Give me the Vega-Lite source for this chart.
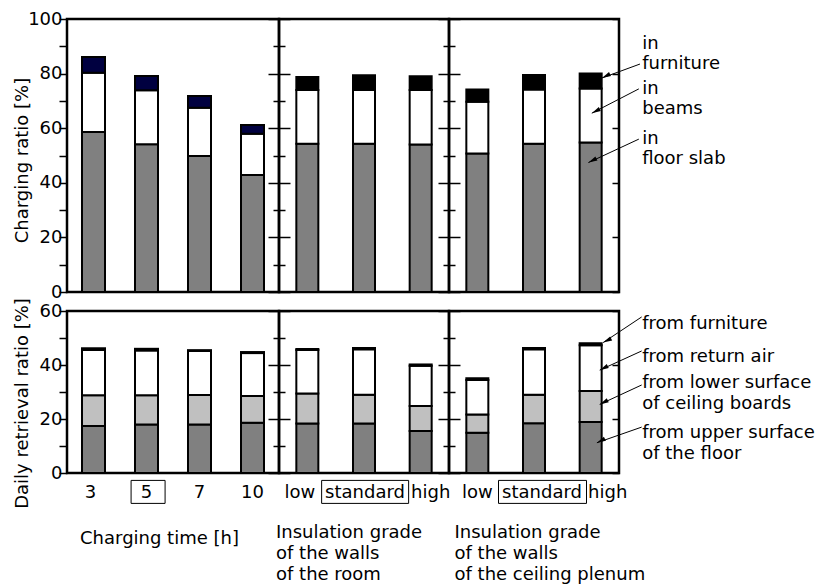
{
"$schema": "https://vega.github.io/schema/vega-lite/v6.json",
"padding": {"left": 11, "top": 8, "right": 5, "bottom": 5},
"background": "white",
"config": {
  "font": "DejaVu Sans",
  "view": {"stroke": "black", "strokeWidth": 2.5},
  "axis": {"domain": false, "grid": false, "tickColor": "black", "tickWidth": 1.5, "labelColor": "black", "labelFontSize": 18, "titleColor": "black", "titleFontSize": 18, "titleFontWeight": "normal"},
  "text": {"fontSize": 18, "color": "black"}
},
"datasets": {
  "charge": [
    {"g":"time","c":"3","comp":"slab","i":1,"v":58.6},{"g":"time","c":"3","comp":"beams","i":2,"v":21.7},{"g":"time","c":"3","comp":"furn","i":3,"v":5.8},
    {"g":"time","c":"5","comp":"slab","i":1,"v":54.1},{"g":"time","c":"5","comp":"beams","i":2,"v":19.8},{"g":"time","c":"5","comp":"furn","i":3,"v":5.2},
    {"g":"time","c":"7","comp":"slab","i":1,"v":49.8},{"g":"time","c":"7","comp":"beams","i":2,"v":17.7},{"g":"time","c":"7","comp":"furn","i":3,"v":4.3},
    {"g":"time","c":"10","comp":"slab","i":1,"v":42.9},{"g":"time","c":"10","comp":"beams","i":2,"v":15.1},{"g":"time","c":"10","comp":"furn","i":3,"v":3.2},
    {"g":"room","c":"low","comp":"slab","i":1,"v":54.3},{"g":"room","c":"low","comp":"beams","i":2,"v":19.7},{"g":"room","c":"low","comp":"furn","i":3,"v":4.8},
    {"g":"room","c":"standard","comp":"slab","i":1,"v":54.3},{"g":"room","c":"standard","comp":"beams","i":2,"v":19.7},{"g":"room","c":"standard","comp":"furn","i":3,"v":5.4},
    {"g":"room","c":"high","comp":"slab","i":1,"v":54.0},{"g":"room","c":"high","comp":"beams","i":2,"v":20.0},{"g":"room","c":"high","comp":"furn","i":3,"v":5.0},
    {"g":"plenum","c":"low","comp":"slab","i":1,"v":50.7},{"g":"plenum","c":"low","comp":"beams","i":2,"v":19.0},{"g":"plenum","c":"low","comp":"furn","i":3,"v":4.5},
    {"g":"plenum","c":"standard","comp":"slab","i":1,"v":54.3},{"g":"plenum","c":"standard","comp":"beams","i":2,"v":19.9},{"g":"plenum","c":"standard","comp":"furn","i":3,"v":5.3},
    {"g":"plenum","c":"high","comp":"slab","i":1,"v":54.8},{"g":"plenum","c":"high","comp":"beams","i":2,"v":19.7},{"g":"plenum","c":"high","comp":"furn","i":3,"v":5.5}
  ],
  "retr": [
    {"g":"time","c":"3","comp":"floor","i":1,"v":17.4},{"g":"time","c":"3","comp":"boards","i":2,"v":11.4},{"g":"time","c":"3","comp":"air","i":3,"v":16.8},{"g":"time","c":"3","comp":"furn","i":4,"v":0.6},
    {"g":"time","c":"5","comp":"floor","i":1,"v":18.0},{"g":"time","c":"5","comp":"boards","i":2,"v":10.8},{"g":"time","c":"5","comp":"air","i":3,"v":16.6},{"g":"time","c":"5","comp":"furn","i":4,"v":0.6},
    {"g":"time","c":"7","comp":"floor","i":1,"v":18.0},{"g":"time","c":"7","comp":"boards","i":2,"v":10.9},{"g":"time","c":"7","comp":"air","i":3,"v":16.3},{"g":"time","c":"7","comp":"furn","i":4,"v":0.3},
    {"g":"time","c":"10","comp":"floor","i":1,"v":18.6},{"g":"time","c":"10","comp":"boards","i":2,"v":9.9},{"g":"time","c":"10","comp":"air","i":3,"v":15.9},{"g":"time","c":"10","comp":"furn","i":4,"v":0.4},
    {"g":"room","c":"low","comp":"floor","i":1,"v":18.3},{"g":"room","c":"low","comp":"boards","i":2,"v":11.1},{"g":"room","c":"low","comp":"air","i":3,"v":16.2},{"g":"room","c":"low","comp":"furn","i":4,"v":0.3},
    {"g":"room","c":"standard","comp":"floor","i":1,"v":18.3},{"g":"room","c":"standard","comp":"boards","i":2,"v":10.7},{"g":"room","c":"standard","comp":"air","i":3,"v":16.8},{"g":"room","c":"standard","comp":"furn","i":4,"v":0.5},
    {"g":"room","c":"high","comp":"floor","i":1,"v":15.6},{"g":"room","c":"high","comp":"boards","i":2,"v":9.2},{"g":"room","c":"high","comp":"air","i":3,"v":14.9},{"g":"room","c":"high","comp":"furn","i":4,"v":0.5},
    {"g":"plenum","c":"low","comp":"floor","i":1,"v":14.9},{"g":"plenum","c":"low","comp":"boards","i":2,"v":6.8},{"g":"plenum","c":"low","comp":"air","i":3,"v":12.7},{"g":"plenum","c":"low","comp":"furn","i":4,"v":0.7},
    {"g":"plenum","c":"standard","comp":"floor","i":1,"v":18.4},{"g":"plenum","c":"standard","comp":"boards","i":2,"v":10.6},{"g":"plenum","c":"standard","comp":"air","i":3,"v":16.8},{"g":"plenum","c":"standard","comp":"furn","i":4,"v":0.5},
    {"g":"plenum","c":"high","comp":"floor","i":1,"v":18.9},{"g":"plenum","c":"high","comp":"boards","i":2,"v":11.5},{"g":"plenum","c":"high","comp":"air","i":3,"v":16.9},{"g":"plenum","c":"high","comp":"furn","i":4,"v":0.8}
  ],
  "labTop": [
    {"t":"in\nfurniture","x":3.41,"y":88.9},
    {"t":"in\nbeams","x":3.41,"y":72.4},
    {"t":"in\nfloor slab","x":3.41,"y":54.3}
  ],
  "arrTop": [
    {"x1":3.37,"y1":83.5,"x2":2.70,"y2":78.4},
    {"x1":3.35,"y1":74.4,"x2":2.52,"y2":65.5},
    {"x1":3.35,"y1":56.0,"x2":2.46,"y2":47.4}
  ],
  "labBot": [
    {"t":"from furniture","x":3.41,"y":53.4},
    {"t":"from return air","x":3.41,"y":41.1},
    {"t":"from lower surface\nof ceiling boards","x":3.41,"y":31.4},
    {"t":"from upper surface\nof the floor","x":3.41,"y":13.1}
  ],
  "arrBot": [
    {"x1":3.40,"y1":57.8,"x2":2.72,"y2":48.3},
    {"x1":3.40,"y1":45.2,"x2":2.66,"y2":38.1},
    {"x1":3.40,"y1":32.6,"x2":2.66,"y2":25.4},
    {"x1":3.40,"y1":17.0,"x2":2.61,"y2":11.2}
  ]
},
"columns": 3,
"spacing": {"row": 19, "column": 0},
"bounds": "flush",
"align": "each",
"resolve": {"scale": {"color": "independent"}},
"concat": [
  {
    "width": 212, "height": 273,
    "layer": [
      {"data": {"name": "charge"}, "transform": [{"filter": "datum.g === 'time'"}],
       "mark": {"type": "bar", "width": 23, "stroke": "black", "strokeWidth": 2},
       "encoding": {
         "x": {"field": "c", "type": "nominal", "scale": {"domain": ["3","5","7","10"], "paddingInner": 0, "paddingOuter": 0}, "axis": null},
         "y": {"field": "v", "type": "quantitative", "stack": "zero", "scale": {"domain": [0,100], "nice": false},
               "axis": {"orient": "left", "values": [0,10,20,30,40,50,60,70,80,90,100], "labelExpr": "datum.value % 20 === 0 ? datum.label : ''", "tickSize": 8, "labelPadding": -3, "title": "Charging ratio [%]", "titleX": -40, "titleY": 141, "titleBaseline": "alphabetic", "titleAngle": -90}},
         "color": {"field": "comp", "type": "nominal", "scale": {"domain": ["slab","beams","furn"], "range": ["#808080","#ffffff","#000040"]}, "legend": null},
         "order": {"field": "i", "type": "quantitative"}
       }},
      {"data": {"values": [{}]}, "mark": {"type": "rule", "opacity": 0},
       "encoding": {"y": {"datum": 0, "type": "quantitative", "scale": {"domain": [0,100], "nice": false},
         "axis": {"orient": "right", "values": [0,10,20,30,40,50,60,70,80,90,100], "labels": false, "title": null, "tickSize": {"condition": {"test": "datum.value % 20 === 0", "value": 11}, "value": 6}}}}}
    ],
    "resolve": {"axis": {"y": "independent"}}
  },
  {
    "width": 170, "height": 273,
    "layer": [
      {"data": {"name": "charge"}, "transform": [{"filter": "datum.g === 'room'"}],
       "mark": {"type": "bar", "width": 22, "stroke": "black", "strokeWidth": 2},
       "encoding": {
         "x": {"field": "c", "type": "nominal", "scale": {"domain": ["low","standard","high"], "paddingInner": 0, "paddingOuter": 0}, "axis": null},
         "y": {"field": "v", "type": "quantitative", "stack": "zero", "scale": {"domain": [0,100], "nice": false},
               "axis": {"orient": "left", "values": [0,10,20,30,40,50,60,70,80,90,100], "labels": false, "title": null, "tickSize": {"condition": {"test": "datum.value % 20 === 0", "value": 11}, "value": 6}}},
         "color": {"field": "comp", "type": "nominal", "scale": {"domain": ["slab","beams","furn"], "range": ["#808080","#ffffff","#000000"]}, "legend": null},
         "order": {"field": "i", "type": "quantitative"}
       }},
      {"data": {"values": [{}]}, "mark": {"type": "rule", "opacity": 0},
       "encoding": {"y": {"datum": 0, "type": "quantitative", "scale": {"domain": [0,100], "nice": false},
         "axis": {"orient": "right", "values": [0,10,20,30,40,50,60,70,80,90,100], "labels": false, "title": null, "tickSize": {"condition": {"test": "datum.value % 20 === 0", "value": 11}, "value": 6}}}}}
    ],
    "resolve": {"axis": {"y": "independent"}}
  },
  {
    "width": 170, "height": 273,
    "layer": [
      {"data": {"name": "charge"}, "transform": [{"filter": "datum.g === 'plenum'"}],
       "mark": {"type": "bar", "width": 22, "stroke": "black", "strokeWidth": 2},
       "encoding": {
         "x": {"field": "c", "type": "nominal", "scale": {"domain": ["low","standard","high"], "paddingInner": 0, "paddingOuter": 0}, "axis": null},
         "y": {"field": "v", "type": "quantitative", "stack": "zero", "scale": {"domain": [0,100], "nice": false},
               "axis": {"orient": "left", "values": [0,10,20,30,40,50,60,70,80,90,100], "labels": false, "title": null, "tickSize": {"condition": {"test": "datum.value % 20 === 0", "value": 11}, "value": 6}}},
         "color": {"field": "comp", "type": "nominal", "scale": {"domain": ["slab","beams","furn"], "range": ["#808080","#ffffff","#000000"]}, "legend": null},
         "order": {"field": "i", "type": "quantitative"}
       }},
      {"layer": [
        {"data": {"name": "labTop"}, "mark": {"type": "text", "align": "left", "baseline": "alphabetic", "lineBreak": "\n", "lineHeight": 20, "fontSize": 18},
         "encoding": {
           "x": {"field": "x", "type": "quantitative", "scale": {"domain": [0,3], "nice": false, "zero": false}, "axis": null},
           "y": {"field": "y", "type": "quantitative", "scale": {"domain": [0,100], "nice": false},
                 "axis": {"orient": "right", "values": [0,10,20,30,40,50,60,70,80,90,100], "labels": false, "title": null, "tickSize": 7, "offset": -7}},
           "text": {"field": "t"}
         }},
        {"data": {"name": "arrTop"}, "mark": {"type": "rule", "color": "black", "strokeWidth": 1},
         "encoding": {
           "x": {"field": "x1", "type": "quantitative", "scale": {"domain": [0,3], "nice": false, "zero": false}, "axis": null},
           "x2": {"field": "x2"},
           "y": {"field": "y1", "type": "quantitative", "scale": {"domain": [0,100], "nice": false}},
           "y2": {"field": "y2"}
         }},
        {"data": {"name": "arrTop"}, "mark": {"type": "point", "shape": "M0,0L2,-0.5L2,0.5Z", "size": 81, "filled": true, "color": "black", "opacity": 1, "angle": -27},
         "encoding": {
           "x": {"field": "x2", "type": "quantitative", "scale": {"domain": [0,3], "nice": false, "zero": false}, "axis": null},
           "y": {"field": "y2", "type": "quantitative", "scale": {"domain": [0,100], "nice": false}}
         }}
      ]}
    ],
    "resolve": {"scale": {"x": "independent"}, "axis": {"x": "independent", "y": "independent"}}
  },
  {
    "width": 212, "height": 162,
    "layer": [
      {"data": {"name": "retr"}, "transform": [{"filter": "datum.g === 'time'"}],
       "mark": {"type": "bar", "width": 23, "stroke": "black", "strokeWidth": 2},
       "encoding": {
         "x": {"field": "c", "type": "nominal", "scale": {"domain": ["3","5","7","10"], "paddingInner": 0, "paddingOuter": 0},
               "axis": {"orient": "bottom", "ticks": false, "domain": false, "labelAngle": 0, "labelPadding": 10, "labelOffset": {"condition": {"test": "datum.value === '3'", "value": -3}, "value": 0}, "title": "Charging time [h]", "titleX": 92, "titleY": 70, "titleBaseline": "alphabetic", "titleAlign": "center"}},
         "y": {"field": "v", "type": "quantitative", "stack": "zero", "scale": {"domain": [0,60], "nice": false},
               "axis": {"orient": "left", "values": [0,10,20,30,40,50,60], "labelExpr": "datum.value % 20 === 0 ? datum.label : ''", "tickSize": 8, "labelPadding": -3, "title": "Daily retrieval ratio [%]", "titleX": -40, "titleY": 92, "titleBaseline": "alphabetic", "titleAngle": -90}},
         "color": {"field": "comp", "type": "nominal", "scale": {"domain": ["floor","boards","air","furn"], "range": ["#808080","#c0c0c0","#ffffff","#000000"]}, "legend": null},
         "order": {"field": "i", "type": "quantitative"}
       }},
      {"data": {"values": [{}]}, "mark": {"type": "point", "shape": "M-0.34,-0.23H0.34V0.23H-0.34Z", "size": 10000, "filled": false, "color": "black", "strokeWidth": 1, "opacity": 1},
       "encoding": {
         "x": {"datum": 1.53, "type": "quantitative", "scale": {"domain": [0,4], "nice": false, "zero": false}, "axis": null},
         "y": {"datum": -7, "type": "quantitative", "scale": {"domain": [0,60], "nice": false}, "axis": null}
       }},
      {"data": {"values": [{}]}, "mark": {"type": "rule", "opacity": 0},
       "encoding": {"y": {"datum": 0, "type": "quantitative", "scale": {"domain": [0,60], "nice": false},
         "axis": {"orient": "right", "values": [0,10,20,30,40,50,60], "labels": false, "title": null, "tickSize": {"condition": {"test": "datum.value % 20 === 0", "value": 11}, "value": 6}}}}}
    ],
    "resolve": {"scale": {"x": "independent"}, "axis": {"x": "independent", "y": "independent"}}
  },
  {
    "width": 170, "height": 162,
    "layer": [
      {"data": {"name": "retr"}, "transform": [{"filter": "datum.g === 'room'"}],
       "mark": {"type": "bar", "width": 22, "stroke": "black", "strokeWidth": 2},
       "encoding": {
         "x": {"field": "c", "type": "nominal", "scale": {"domain": ["low","standard","high"], "paddingInner": 0, "paddingOuter": 0},
               "axis": {"orient": "bottom", "ticks": false, "domain": false, "labelAngle": 0, "labelPadding": 10, "labelOffset": {"condition": [{"test": "datum.value === 'low'", "value": -7.5}, {"test": "datum.value === 'high'", "value": 10}], "value": 1}, "title": ["Insulation grade","of the walls","of the room"], "titleX": -3.5, "titleY": 64, "titleBaseline": "alphabetic", "titleAlign": "left", "titleLineHeight": 21}},
         "y": {"field": "v", "type": "quantitative", "stack": "zero", "scale": {"domain": [0,60], "nice": false},
               "axis": {"orient": "left", "values": [0,10,20,30,40,50,60], "labels": false, "title": null, "tickSize": {"condition": {"test": "datum.value % 20 === 0", "value": 11}, "value": 6}}},
         "color": {"field": "comp", "type": "nominal", "scale": {"domain": ["floor","boards","air","furn"], "range": ["#808080","#c0c0c0","#ffffff","#000000"]}, "legend": null},
         "order": {"field": "i", "type": "quantitative"}
       }},
      {"data": {"values": [{}]}, "mark": {"type": "point", "shape": "M-0.87,-0.23H0.87V0.23H-0.87Z", "size": 10000, "filled": false, "color": "black", "strokeWidth": 1, "opacity": 1},
       "encoding": {
         "x": {"datum": 1.52, "type": "quantitative", "scale": {"domain": [0,3], "nice": false, "zero": false}, "axis": null},
         "y": {"datum": -7, "type": "quantitative", "scale": {"domain": [0,60], "nice": false}, "axis": null}
       }},
      {"data": {"values": [{}]}, "mark": {"type": "rule", "opacity": 0},
       "encoding": {"y": {"datum": 0, "type": "quantitative", "scale": {"domain": [0,60], "nice": false},
         "axis": {"orient": "right", "values": [0,10,20,30,40,50,60], "labels": false, "title": null, "tickSize": {"condition": {"test": "datum.value % 20 === 0", "value": 11}, "value": 6}}}}}
    ],
    "resolve": {"scale": {"x": "independent"}, "axis": {"x": "independent", "y": "independent"}}
  },
  {
    "width": 170, "height": 162,
    "layer": [
      {"data": {"name": "retr"}, "transform": [{"filter": "datum.g === 'plenum'"}],
       "mark": {"type": "bar", "width": 22, "stroke": "black", "strokeWidth": 2},
       "encoding": {
         "x": {"field": "c", "type": "nominal", "scale": {"domain": ["low","standard","high"], "paddingInner": 0, "paddingOuter": 0},
               "axis": {"orient": "bottom", "ticks": false, "domain": false, "labelAngle": 0, "labelPadding": 10, "labelOffset": {"condition": [{"test": "datum.value === 'standard'", "value": 8}, {"test": "datum.value === 'high'", "value": 17}], "value": 0}, "title": ["Insulation grade","of the walls","of the ceiling plenum"], "titleX": 5, "titleY": 64, "titleBaseline": "alphabetic", "titleAlign": "left", "titleLineHeight": 21}},
         "y": {"field": "v", "type": "quantitative", "stack": "zero", "scale": {"domain": [0,60], "nice": false},
               "axis": {"orient": "left", "values": [0,10,20,30,40,50,60], "labels": false, "title": null, "tickSize": {"condition": {"test": "datum.value % 20 === 0", "value": 11}, "value": 6}}},
         "color": {"field": "comp", "type": "nominal", "scale": {"domain": ["floor","boards","air","furn"], "range": ["#808080","#c0c0c0","#ffffff","#000000"]}, "legend": null},
         "order": {"field": "i", "type": "quantitative"}
       }},
      {"data": {"values": [{}]}, "mark": {"type": "point", "shape": "M-0.88,-0.23H0.88V0.23H-0.88Z", "size": 10000, "filled": false, "color": "black", "strokeWidth": 1, "opacity": 1},
       "encoding": {
         "x": {"datum": 1.65, "type": "quantitative", "scale": {"domain": [0,3], "nice": false, "zero": false}, "axis": null},
         "y": {"datum": -7, "type": "quantitative", "scale": {"domain": [0,60], "nice": false}, "axis": null}
       }},
      {"layer": [
        {"data": {"name": "labBot"}, "mark": {"type": "text", "align": "left", "baseline": "alphabetic", "lineBreak": "\n", "lineHeight": 21, "fontSize": 18},
         "encoding": {
           "x": {"field": "x", "type": "quantitative", "scale": {"domain": [0,3], "nice": false, "zero": false}, "axis": null},
           "y": {"field": "y", "type": "quantitative", "scale": {"domain": [0,60], "nice": false},
                 "axis": {"orient": "right", "values": [0,10,20,30,40,50,60], "labels": false, "title": null, "tickSize": 7, "offset": -7}},
           "text": {"field": "t"}
         }},
        {"data": {"name": "arrBot"}, "mark": {"type": "rule", "color": "black", "strokeWidth": 1},
         "encoding": {
           "x": {"field": "x1", "type": "quantitative", "scale": {"domain": [0,3], "nice": false, "zero": false}, "axis": null},
           "x2": {"field": "x2"},
           "y": {"field": "y1", "type": "quantitative", "scale": {"domain": [0,60], "nice": false}},
           "y2": {"field": "y2"}
         }},
        {"data": {"name": "arrBot"}, "mark": {"type": "point", "shape": "M0,0L2,-0.5L2,0.5Z", "size": 81, "filled": true, "color": "black", "opacity": 1, "angle": -27},
         "encoding": {
           "x": {"field": "x2", "type": "quantitative", "scale": {"domain": [0,3], "nice": false, "zero": false}, "axis": null},
           "y": {"field": "y2", "type": "quantitative", "scale": {"domain": [0,60], "nice": false}}
         }}
      ]}
    ],
    "resolve": {"scale": {"x": "independent"}, "axis": {"x": "independent", "y": "independent"}}
  }
]
}
